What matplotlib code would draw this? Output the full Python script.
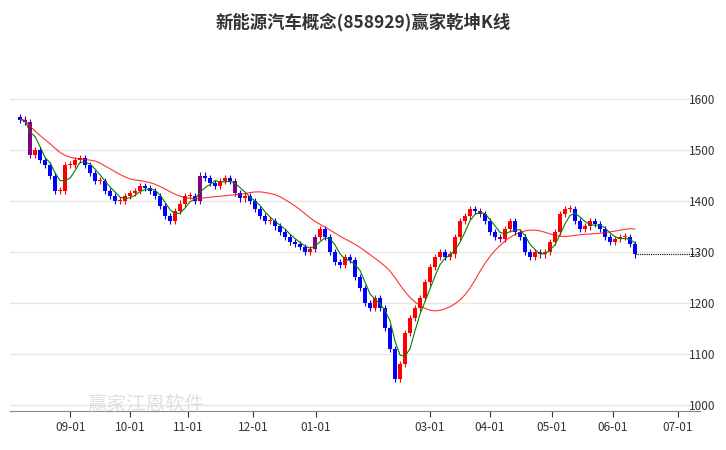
import numpy as np
import pandas as pd
import matplotlib
matplotlib.use("Agg")
import matplotlib.pyplot as plt

plt.rcParams['font.family'] = ['Noto Sans CJK SC', 'DejaVu Sans']

# closing prices (roughly every 1.7 trading days)
closes = [1560, 1555, 1490, 1500, 1480, 1470, 1450, 1420, 1420, 1470, 1470, 1480, 1485,
          1470, 1455, 1440, 1440, 1420, 1410, 1400, 1400, 1410, 1415, 1420, 1430, 1425,
          1420, 1410, 1390, 1370, 1360, 1380, 1395, 1410, 1410, 1400, 1450, 1445, 1435,
          1430, 1440, 1445, 1440, 1415, 1405, 1410, 1400, 1385, 1370, 1360, 1360, 1350,
          1340, 1330, 1320, 1315, 1310, 1300, 1305, 1330, 1345, 1330, 1300, 1280, 1275,
          1290, 1285, 1250, 1230, 1200, 1190, 1210, 1190, 1150, 1110, 1050, 1080, 1140,
          1170, 1190, 1210, 1240, 1270, 1290, 1300, 1290, 1295, 1330, 1360, 1370, 1385,
          1380, 1375, 1360, 1340, 1330, 1325, 1345, 1360, 1340, 1330, 1300, 1290, 1300,
          1295, 1300, 1320, 1340, 1375, 1385, 1385, 1360, 1345, 1350, 1360, 1355, 1345,
          1330, 1320, 1325, 1330, 1330, 1315, 1295]
first_open = 1565
purple_idx = [2, 36, 43, 59, 92, 96, 104]

tick_pos = [10, 22, 33.6, 46.6, 59.2, 82, 94, 106.4, 118.6, 131.6]
tick_labels = ["09-01", "10-01", "11-01", "12-01", "01-01", "03-01", "04-01", "05-01", "06-01", "07-01"]
y_ticks = [1000, 1100, 1200, 1300, 1400, 1500, 1600]

close = pd.Series(closes, dtype=float)
opens = close.shift(1).fillna(first_open)
ma_short = close.rolling(4, min_periods=1).mean()
ma_long = close.rolling(16, min_periods=1).mean().ewm(span=4).mean()

fig = plt.figure(figsize=(7.26, 4.5), dpi=100)
ax = fig.add_axes([0.014, 0.087, 0.95, 0.824])

for i, (o, c) in enumerate(zip(opens, close)):
    col = "red" if c >= o else "blue"
    if i in purple_idx:
        col = "purple"
    lo, hi = min(o, c), max(o, c)
    if hi - lo < 3:
        hi += 2
    ax.vlines(i, lo - 6, hi + 6, color=col, lw=0.8)
    ax.bar(i, hi - lo, bottom=lo, width=0.7, color=col, lw=0)

x = np.arange(len(closes))
ax.plot(x, ma_short, color="green", lw=0.8)
ax.plot(x, ma_long, color="red", lw=0.8, alpha=0.8)
ax.hlines(closes[-1], x[-1], 136, color="black", lw=0.8, linestyles=(0, (1, 1)))

ax.set_xlim(-2, 136)
ax.set_ylim(988, 1716)
for v in y_ticks:
    ax.axhline(v, color="#e6e6e6", lw=1, zorder=0)
ax.set_yticks(y_ticks)
ax.yaxis.tick_right()
ax.tick_params(axis="y", length=0, labelsize=8.5, colors="#333333", pad=-8)
ax.set_xticks(tick_pos)
ax.set_xticklabels(tick_labels)
ax.tick_params(axis="x", labelsize=8.5, colors="#333333", length=4)
for s in ["top", "right", "left"]:
    ax.spines[s].set_visible(False)
ax.spines["bottom"].set_color("#888888")

fig.text(0.5, 0.95, "新能源汽车概念(858929)赢家乾坤K线", ha="center", va="center",
         fontsize=12.5, fontweight="bold", color="#333333")
fig.text(0.12, 0.09, "赢家江恩软件", fontsize=14, color="#cccccc", alpha=0.6)

fig.savefig("out.png", dpi=100)
